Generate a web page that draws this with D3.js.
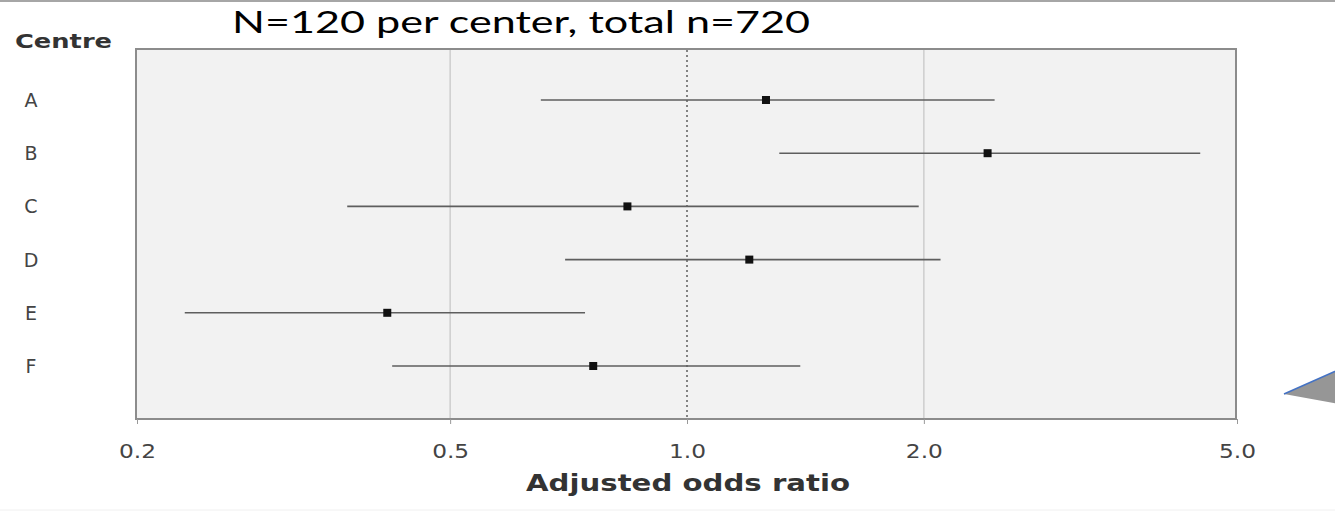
<!DOCTYPE html>
<html>
<head>
<meta charset="utf-8">
<script src="https://cdn.jsdelivr.net/npm/d3@7"></script>
<style>
  body { margin: 0; background: #fff; }
  svg { display: block; }
</style>
</head>
<body>
<div id="chart"></div>
<script>
// data
const centres = ['A', 'B', 'C', 'D', 'E', 'F'];
const oddsRatio = [1.26, 2.41, 0.84, 1.20, 0.416, 0.76];
const ciLower = [0.652, 1.31, 0.37, 0.70, 0.230, 0.422];
const ciUpper = [2.46, 4.49, 1.97, 2.10, 0.742, 1.393];
const tickValues = [0.2, 0.5, 1.0, 2.0, 5.0];
const gridValues = [0.5, 2.0];
const title = 'N=120 per center, total n=720';

const width = 1335, height = 512;
const box = { left: 136, right: 1236, top: 49, bottom: 419 };
const labelFont = '"DejaVu Sans", Verdana, sans-serif';

const svg = d3.select('#chart')
  .append('svg')
  .attr('width', width)
  .attr('height', height);

// slide frame lines
svg.append('line')
  .attr('x1', 0).attr('x2', width).attr('y1', 1).attr('y2', 1)
  .attr('stroke', '#a6a6a6').attr('stroke-width', 2);
svg.append('line')
  .attr('x1', 0).attr('x2', width).attr('y1', 510).attr('y2', 510)
  .attr('stroke', '#f0f0f0').attr('stroke-width', 1);

const x = d3.scaleLog()
  .domain([0.2, 5])
  .range([box.left + 1, box.right + 1]);

const y = d3.scalePoint()
  .domain(centres)
  .range([100, 366]);

// plot area
svg.append('rect')
  .attr('x', box.left)
  .attr('y', box.top)
  .attr('width', box.right - box.left)
  .attr('height', box.bottom - box.top)
  .attr('fill', '#f2f2f2')
  .attr('stroke', '#8c8c8c')
  .attr('stroke-width', 2);

svg.append('g')
  .selectAll('line')
  .data(gridValues)
  .enter()
    .append('line')
    .attr('x1', d => x(d)).attr('x2', d => x(d))
    .attr('y1', box.top + 1).attr('y2', box.bottom - 1)
    .attr('stroke', '#c4c4c4')
    .attr('stroke-width', 1.2);

svg.append('line')
  .attr('x1', x(1)).attr('x2', x(1))
  .attr('y1', box.top + 1).attr('y2', box.bottom - 1)
  .attr('stroke', '#555')
  .attr('stroke-width', 1.4)
  .attr('stroke-dasharray', '2,3');

// x axis
const xAxis = d3.axisBottom(x)
  .tickValues(tickValues)
  .tickFormat(d3.format('.1f'))
  .tickSize(5)
  .tickPadding(20);

const axisG = svg.append('g')
  .attr('transform', `translate(0,${box.bottom})`)
  .call(xAxis);
axisG.select('.domain').remove();
axisG.selectAll('.tick line').attr('stroke', '#999');
axisG.selectAll('.tick text')
  .attr('fill', '#444')
  .attr('textLength', 37)
  .attr('lengthAdjust', 'spacingAndGlyphs')
  .style('font-family', labelFont)
  .style('font-size', '20px');

// confidence intervals
const rows = centres.map((c, i) => ({ c, or: oddsRatio[i], lo: ciLower[i], hi: ciUpper[i] }));

svg.append('g')
  .selectAll('line')
  .data(rows)
  .enter()
    .append('line')
    .attr('x1', d => x(d.lo))
    .attr('x2', d => x(d.hi))
    .attr('y1', d => y(d.c))
    .attr('y2', d => y(d.c))
    .attr('stroke', '#5e5e5e')
    .attr('stroke-width', 1.6);

svg.append('g')
  .selectAll('rect')
  .data(rows)
  .enter()
    .append('rect')
    .attr('x', d => x(d.or) - 4)
    .attr('y', d => y(d.c) - 4)
    .attr('width', 8)
    .attr('height', 8)
    .attr('fill', '#111');

// row labels
svg.append('g')
  .selectAll('text')
  .data(centres)
  .enter()
    .append('text')
    .attr('x', 31)
    .attr('y', d => y(d) + 7)
    .attr('text-anchor', 'middle')
    .attr('fill', '#444')
    .style('font-family', labelFont)
    .style('font-size', '19px')
    .text(d => d);

svg.append('text')
  .attr('x', 15)
  .attr('y', 48)
  .attr('fill', '#333')
  .attr('textLength', 97)
  .attr('lengthAdjust', 'spacingAndGlyphs')
  .style('font-family', labelFont)
  .style('font-weight', 'bold')
  .style('font-size', '19px')
  .text('Centre');

svg.append('text')
  .attr('x', 526)
  .attr('y', 491)
  .attr('fill', '#333')
  .attr('textLength', 324)
  .attr('lengthAdjust', 'spacingAndGlyphs')
  .style('font-family', labelFont)
  .style('font-weight', 'bold')
  .style('font-size', '23px')
  .text('Adjusted odds ratio');

svg.append('text')
  .attr('x', 232)
  .attr('y', 33)
  .attr('fill', '#000')
  .attr('textLength', 578)
  .attr('lengthAdjust', 'spacingAndGlyphs')
  .style('font-family', 'Lato, "Open Sans", sans-serif')
  .style('font-size', '31px')
  .text(title);

// callout pointer at the right edge
svg.append('path')
  .attr('d', d3.line()([[1284, 394], [1345, 367], [1345, 405]]))
  .attr('fill', '#969696')
  .attr('stroke', '#4472c4')
  .attr('stroke-width', 1.5);
</script>
</body>
</html>
